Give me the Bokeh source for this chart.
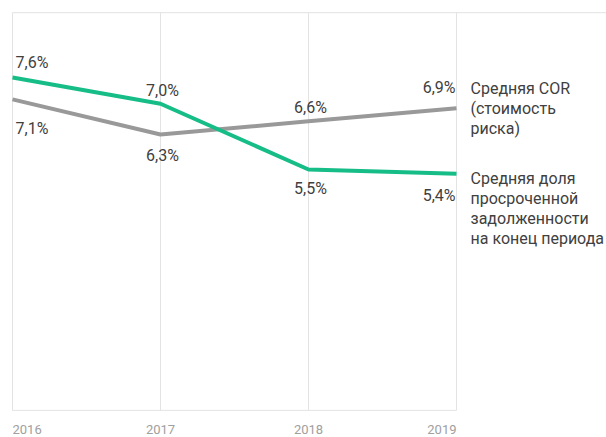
from bokeh.plotting import figure
from bokeh.models import Range1d
from bokeh.core.properties import value
from bokeh.embed import file_html
from bokeh.resources import INLINE

# ---- data ----
years = [2016, 2017, 2018, 2019]
year_labels = ["2016", "2017", "2018", "2019"]
cor = [7.1, 6.3, 6.6, 6.9]              # Средняя COR (стоимость риска)
overdue = [7.6, 7.0, 5.5, 5.4]          # Средняя доля просроченной задолженности
cor_labels = ["7,1%", "6,3%", "6,6%", "6,9%"]
overdue_labels = ["7,6%", "7,0%", "5,5%", "5,4%"]
cor_name = ["Средняя COR", "(стоимость", "риска)"]
overdue_name = ["Средняя доля", "просроченной", "задолженности", "на конец периода"]

# ---- styles ----
GREEN = "#16bd87"
GRAY = "#999999"
TEXT = "#404040"
GRID = "#e3e3e3"
FONT = value("Roboto")
FS = "16px"
Y_BOTTOM = 0.0
Y_TOP = 9.08

W, H = 606, 437
px_per_year = 148.0
px_per_unit = 43.8
x0_px = 12.0
y_ref_px = 77.0  # pixel of 7.6

x_start = years[0] - x0_px / px_per_year
x_end = years[0] + (W - x0_px) / px_per_year
y_end = 7.6 + y_ref_px / px_per_unit
y_start = 7.6 - (H - y_ref_px) / px_per_unit

p = figure(width=W, height=H, output_backend="svg", toolbar_location=None,
           x_range=Range1d(x_start, x_end), y_range=Range1d(y_start, y_end),
           min_border=0, min_border_left=0, min_border_right=0,
           min_border_top=0, min_border_bottom=0)
p.axis.visible = False
p.grid.visible = False
p.outline_line_color = None
p.background_fill_color = "white"
p.border_fill_color = "white"

# frame lines
p.segment(x0=years, y0=[Y_BOTTOM] * 4, x1=years, y1=[Y_TOP] * 4, line_color=GRID, line_width=1)
p.segment(x0=[years[0]], y0=[Y_BOTTOM], x1=[years[-1]], y1=[Y_BOTTOM], line_color=GRID, line_width=1)
p.segment(x0=[years[0]], y0=[Y_TOP], x1=[x_end], y1=[Y_TOP], line_color=GRID, line_width=1)

# lines
p.line(years, cor, line_color=GRAY, line_width=4, line_join="round")
p.line(years, overdue, line_color=GREEN, line_width=4, line_join="round")

# value labels
aligns = ["left", "center", "center", "right"]
xoffs = [3, 2, 2, -1]
cor_yoffs = [29, 21, -14, -21]
ov_yoffs = [-15, -13, 19, 22]
for i in range(4):
    p.text(x=[years[i]], y=[cor[i]], text=[cor_labels[i]], text_align=aligns[i],
           text_baseline="middle", x_offset=xoffs[i], y_offset=cor_yoffs[i],
           text_font=FONT, text_font_size=FS, text_color=TEXT)
    p.text(x=[years[i]], y=[overdue[i]], text=[overdue_labels[i]], text_align=aligns[i],
           text_baseline="middle", x_offset=xoffs[i], y_offset=ov_yoffs[i],
           text_font=FONT, text_font_size=FS, text_color=TEXT)

# year labels
for i in range(4):
    p.text(x=[years[i]], y=[Y_BOTTOM], text=[year_labels[i]], text_align=aligns[i],
           text_baseline="middle", x_offset=0, y_offset=19,
           text_font=FONT, text_font_size="13px", text_color="#a0a0a0")

# series names
for j, line in enumerate(cor_name):
    p.text(x=[years[-1]], y=[cor[-1]], text=[line], text_align="left", text_baseline="middle",
           x_offset=14, y_offset=-20 + 20 * j, text_font=FONT, text_font_size=FS, text_color=TEXT)
for j, line in enumerate(overdue_name):
    p.text(x=[years[-1]], y=[overdue[-1]], text=[line], text_align="left", text_baseline="middle",
           x_offset=14, y_offset=5 + 20 * j, text_font=FONT, text_font_size=FS, text_color=TEXT)

open("out.html", "w").write(file_html(p, INLINE))
